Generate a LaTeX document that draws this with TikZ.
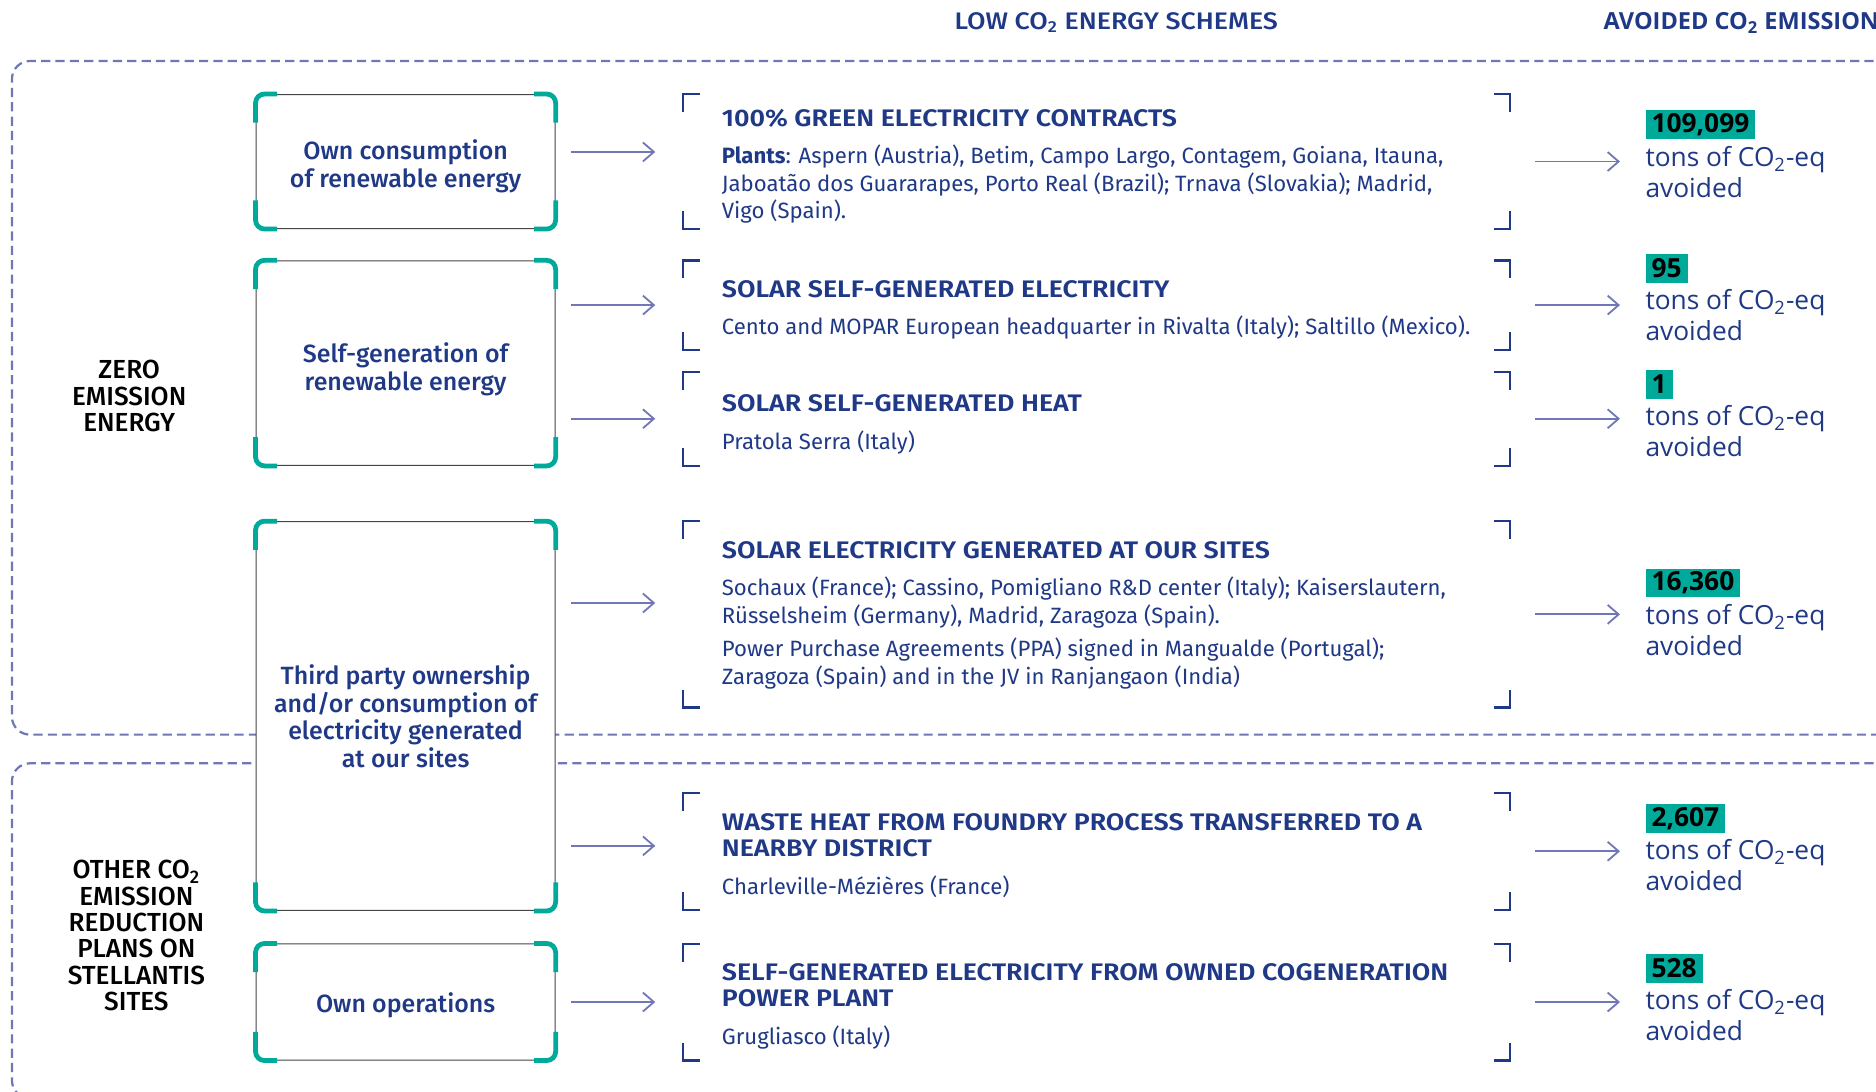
\documentclass[tikz,border=0pt]{standalone}
\usepackage{fontspec}
\setmainfont{Fira Sans}
\newfontfamily\medfont{Fira Sans Medium}
\newfontfamily\hdrfont{Fira Sans Medium}[FakeStretch=1.12]
\newfontfamily\ttlfont{Fira Sans SemiBold}[FakeStretch=1.12]
\newfontfamily\widefont{Open Sans}
\usetikzlibrary{arrows.meta,calc}
\definecolor{navy}{RGB}{31,57,135}
\definecolor{lav}{RGB}{112,118,182}
\definecolor{tealc}{RGB}{0,170,155}
\definecolor{boxline}{RGB}{70,70,70}
\tikzset{
  frameline/.style={draw=lav, line width=1.1pt, dash pattern=on 4.6pt off 2.6pt, rounded corners=9pt},
  lbox/.style={draw=boxline, line width=0.5pt, fill=white, rounded corners=5pt, minimum width=150pt, inner sep=0pt},
  btext/.style={inner sep=0pt, align=center, text=navy, font=\medfont\fontsize{12.5}{13.8}\selectfont},
  tcorner/.style={draw=tealc, line width=2.4pt, rounded corners=4.5pt},
  arr/.style={draw=lav, line width=0.9pt, -{Straight Barb[length=5.5pt,width=9.5pt,line width=0.9pt]}},
  sframe/.style={minimum width=414.6pt, inner sep=0pt, draw=none},
  brk/.style={draw=navy, line width=1.1pt},
  ttl/.style={anchor=west, inner sep=0pt, text=navy, align=left, font=\ttlfont\fontsize{12}{13.2}\selectfont},
  body/.style={anchor=west, inner sep=0pt, text=navy, align=left, font=\fontsize{11.1}{13.8}\selectfont},
  num/.style={anchor=north west, fill=tealc, text=black, inner xsep=3pt, inner ysep=0pt, minimum height=14.4pt, font=\widefont\bfseries\fontsize{13.2}{14}\selectfont},
  tons/.style={anchor=west, inner sep=0pt, text=navy, align=left, font=\widefont\fontsize{13.2}{15.6}\selectfont},
  side/.style={inner sep=0pt, align=center, text=black, font=\medfont\fontsize{13.1}{13.2}\selectfont},
  hdr/.style={inner sep=0pt, text=navy, font=\hdrfont\fontsize{12}{13}\selectfont},
}
\newcommand\tealcorners[1]{%
 \draw[tcorner] ($(#1.north west)+(18,0)$) -- (#1.north west) -- ($(#1.north west)+(0,24)$);
 \draw[tcorner] ($(#1.north east)+(-18,0)$) -- (#1.north east) -- ($(#1.north east)+(0,24)$);
 \draw[tcorner] ($(#1.south west)+(18,0)$) -- (#1.south west) -- ($(#1.south west)+(0,-24)$);
 \draw[tcorner] ($(#1.south east)+(-18,0)$) -- (#1.south east) -- ($(#1.south east)+(0,-24)$);
}
\newcommand\schemeframe[3]{%
 \node[sframe, minimum height={(#3-#2)*0.6pt}] (#1) at (916.5,{(#2+#3)/2}) {};
 \draw[brk] ($(#1.north west)+(14,0)$) -- (#1.north west) -- ($(#1.north west)+(0,15)$);
 \draw[brk] ($(#1.north east)+(-14,0)$) -- (#1.north east) -- ($(#1.north east)+(0,15)$);
 \draw[brk] ($(#1.south west)+(14,0)$) -- (#1.south west) -- ($(#1.south west)+(0,-15)$);
 \draw[brk] ($(#1.south east)+(-14,0)$) -- (#1.south east) -- ($(#1.south east)+(0,-15)$);
}
\begin{document}
\begin{tikzpicture}[x=0.6pt,y=-0.6pt]
\useasboundingbox (0,0) rectangle (1568,912);
\fill[white] (0,0) rectangle (1568,912);
\clip (0,0) rectangle (1568,912);
% headers
\node[hdr] (hl) at (933,19) {LOW CO\textsubscript{2} ENERGY SCHEMES};
\node[hdr, anchor=west, font=\widefont\bfseries\fontsize{11.8}{13}\selectfont] (hr) at (1340,19) {AVOIDED CO\textsubscript{2} EMISSION};
% dashed group frames
\draw[frameline] (1590,51) -- (10,51) -- (10,614) -- (1590,614);
\draw[frameline] (1590,638) -- (10,638) -- (10,918) -- (1590,918);
% side labels
\node[side] (z) at (108,331) {ZERO\\EMISSION\\ENERGY};
\node[side] (o) at (114,782) {OTHER CO\textsubscript{2}\\EMISSION\\REDUCTION\\PLANS ON\\STELLANTIS\\SITES};
% left boxes
\node[lbox, minimum height=67.2pt] (b1) at (339,135) {};
\node[lbox, minimum height=102.6pt] (b2) at (339,303.5) {};
\node[lbox, minimum height=195pt] (b3) at (339,598.5) {};
\node[lbox, minimum height=58.2pt] (b4) at (339,837.5) {};
\tealcorners{b1}\tealcorners{b2}\tealcorners{b3}\tealcorners{b4}
\node[btext] (b1t) at ($(b1.center)+(0,4)$) {Own consumption\\of renewable energy};
\node[btext] (b2t) at ($(b2.center)+(0,5)$) {Self-generation of\\renewable energy};
\node[btext] (b3t) at (b3.center) {Third party ownership\\and/or consumption of\\electricity generated\\at our sites};
\node[btext] (b4t) at ($(b4.center)+(0,3)$) {Own operations};
% scheme frames
\schemeframe{s1}{79}{191}
\schemeframe{s2}{218}{292}
\schemeframe{s3}{311}{389}
\schemeframe{s4}{436}{591}
\schemeframe{s5}{663}{760}
\schemeframe{s6}{789}{886}
% scheme texts
\node[ttl] (h1) at (603,99) {100\% GREEN ELECTRICITY CONTRACTS};
\node[body] (d1) at (603,154) {\textbf{Plants}: Aspern (Austria), Betim, Campo Largo, Contagem, Goiana, Itauna,\\Jaboatão dos Guararapes, Porto Real (Brazil); Trnava (Slovakia); Madrid,\\Vigo (Spain).};
\node[ttl] (h2) at (603,242) {SOLAR SELF-GENERATED ELECTRICITY};
\node[body] (d2) at (603,274) {Cento and MOPAR European headquarter in Rivalta (Italy); Saltillo (Mexico).};
\node[ttl] (h3) at (603,337) {SOLAR SELF-GENERATED HEAT};
\node[body] (d3) at (603,370) {Pratola Serra (Italy)};
\node[ttl] (h4) at (603,460) {SOLAR ELECTRICITY GENERATED AT OUR SITES};
\node[body] (d4) at (603,529) {Sochaux (France); Cassino, Pomigliano R\&D center (Italy); Kaiserslautern,\\Rüsselsheim (Germany), Madrid, Zaragoza (Spain).\\[3pt]Power Purchase Agreements (PPA) signed in Mangualde (Portugal);\\Zaragoza (Spain) and in the JV in Ranjangaon (India)};
\node[ttl] (h5) at (603,698) {WASTE HEAT FROM FOUNDRY PROCESS TRANSFERRED TO A\\NEARBY DISTRICT};
\node[body] (d5) at (603,741) {Charleville-Mézières (France)};
\node[ttl] (h6) at (603,823.5) {SELF-GENERATED ELECTRICITY FROM OWNED COGENERATION\\POWER PLANT};
\node[body] (d6) at (603,867) {Grugliasco (Italy)};
% values
\node[num] (n1) at (1375,92) {109,099};
\node[num] (n2) at (1375,212) {95};
\node[num] (n3) at (1375,309) {1};
\node[num] (n4) at (1375,475) {16,360};
\node[num] (n5) at (1375,672) {2,607};
\node[num] (n6) at (1375,797) {528};
\node[tons] (t1) at (1375,144) {tons of CO\textsubscript{2}-eq\\avoided};
\node[tons] (t2) at (1375,263.5) {tons of CO\textsubscript{2}-eq\\avoided};
\node[tons] (t3) at (1375,360) {tons of CO\textsubscript{2}-eq\\avoided};
\node[tons] (t4) at (1375,526.5) {tons of CO\textsubscript{2}-eq\\avoided};
\node[tons] (t5) at (1375,723) {tons of CO\textsubscript{2}-eq\\avoided};
\node[tons] (t6) at (1375,848.5) {tons of CO\textsubscript{2}-eq\\avoided};
% left arrows
\draw[arr] ($(b1.east |- s1.west)+(13,-8)$) -- ($(s1.west)+(-23,-8)$);
\draw[arr] ($(b2.east |- s2.west)+(13,0)$) -- ($(s2.west)+(-23,0)$);
\draw[arr] ($(b2.east |- s3.west)+(13,0)$) -- ($(s3.west)+(-23,0)$);
\draw[arr] ($(b3.east |- s4.west)+(13,-9.5)$) -- ($(s4.west)+(-23,-9.5)$);
\draw[arr] ($(b3.east |- s5.west)+(13,-4.5)$) -- ($(s5.west)+(-23,-4.5)$);
\draw[arr] ($(b4.east |- s6.west)+(13,0)$) -- ($(s6.west)+(-23,0)$);
% right arrows
\draw[arr] ($(s1.east)+(21,0)$) -- ($(t1.west |- s1.east)+(-21,0)$);
\draw[arr] ($(s2.east)+(21,0)$) -- ($(t2.west |- s2.east)+(-21,0)$);
\draw[arr] ($(s3.east)+(21,0)$) -- ($(t3.west |- s3.east)+(-21,0)$);
\draw[arr] ($(s4.east)+(21,0)$) -- ($(t4.west |- s4.east)+(-21,0)$);
\draw[arr] ($(s5.east)+(21,0)$) -- ($(t5.west |- s5.east)+(-21,0)$);
\draw[arr] ($(s6.east)+(21,0)$) -- ($(t6.west |- s6.east)+(-21,0)$);
\end{tikzpicture}
\end{document}
